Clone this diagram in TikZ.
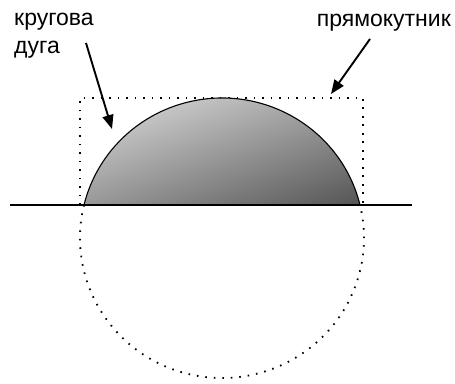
\documentclass[tikz,border=0pt]{standalone}
\usepackage{fontspec}
\setmainfont{Liberation Sans}
\usetikzlibrary{arrows.meta}
\begin{document}
\begin{tikzpicture}[x=1pt,y=1pt,
  dotline/.style={line width=1.8pt,dash pattern=on 1.6pt off 6.9pt,black},
  pointer/.style={line width=1.9pt,-{Triangle[length=14pt,width=11pt]}},
  lbl/.style={inner sep=0pt,font=\fontsize{23}{28}\selectfont,align=left}]
\useasboundingbox (0,0) rectangle (455,383);
% circle parameters: centre (222,145), rx 142, ry 140
\coordinate (c) at (222,145);
\coordinate (rA) at (80,178);
\coordinate (rB) at (363,285);
% dotted rectangle
\draw[dotline] (rA) |- (rB) -- (rB |- rA);
% dotted lower part of circle
\draw[dotline] (c) ++(166.4:142 and 140) arc[start angle=166.4,end angle=373.6,x radius=142,y radius=140];
% shaded arc segment
\shade[left color=black!16,right color=black!68,shading angle=20,draw=black,line width=1.1pt]
  (c) ++(13.6:142 and 140) arc[start angle=13.6,end angle=166.4,x radius=142,y radius=140] -- cycle;
% horizontal line
\coordinate (hL) at (10,178);
\coordinate (hR) at (412,178);
\draw[line width=1.8pt] (hL) -- (hR);
% labels
\node[lbl,anchor=north west] (arc) at (14,370) {кругова\\дуга};
\node[lbl,anchor=north east] (rect) at (451,369) {прямокутник};
\coordinate (aT) at (86,340);
\coordinate (aH) at (112,254);
\coordinate (bT) at (370,344);
\coordinate (bH) at (331,289);
\draw[pointer] (aT) -- (aH);
\draw[pointer] (bT) -- (bH);
\end{tikzpicture}
\end{document}
